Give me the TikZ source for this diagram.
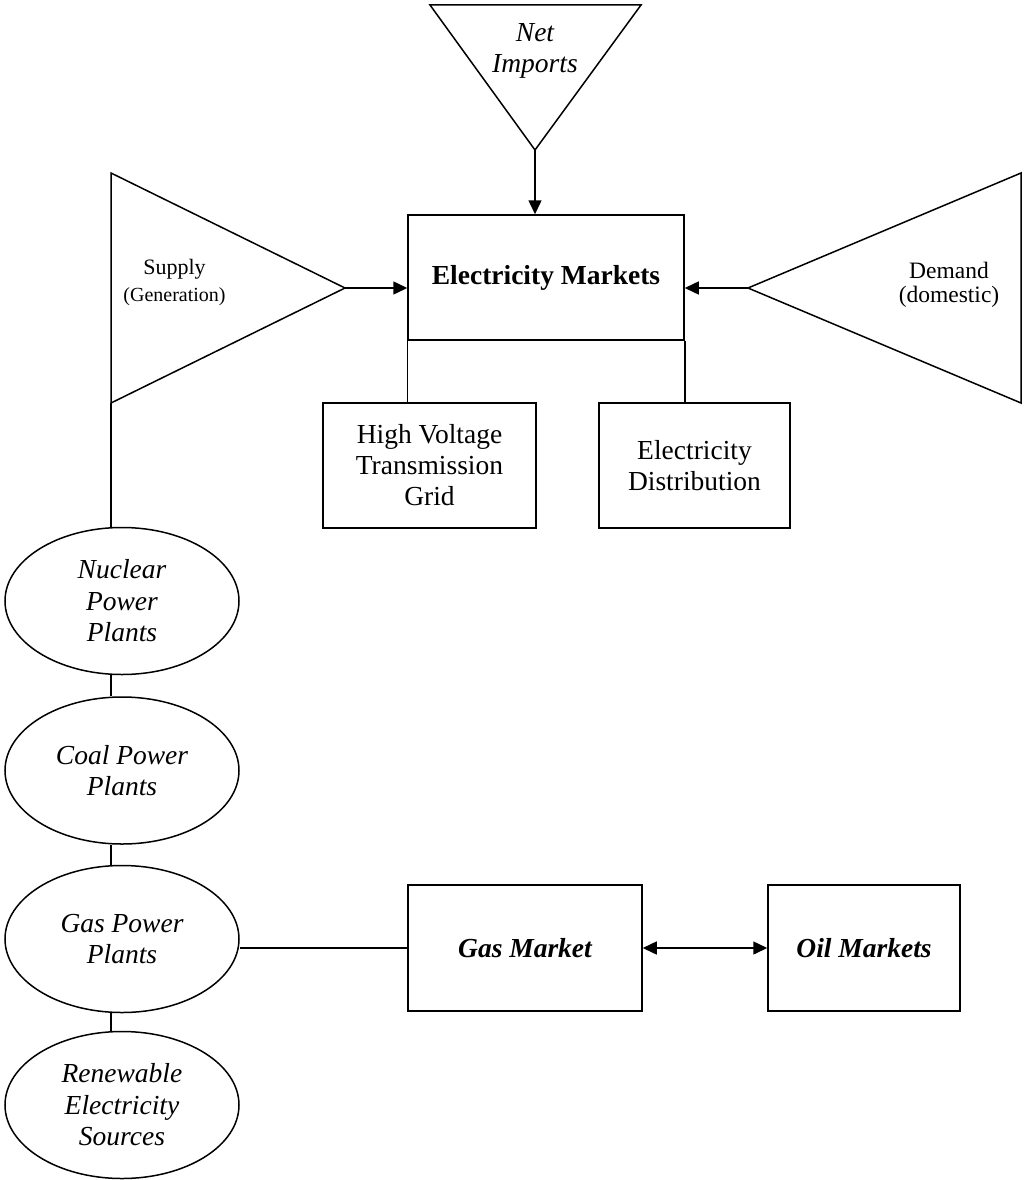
\documentclass[tikz,border=0pt]{standalone}
\usepackage{fontspec}
\setmainfont{Liberation Serif}
\usetikzlibrary{arrows.meta,shapes.geometric}
\begin{document}
\begin{tikzpicture}[x=1pt,y=-1pt,line width=1.5pt,
  arr/.style={-{Triangle[length=14pt,width=13pt]}},
  darr/.style={{Triangle[length=14pt,width=13pt]}-{Triangle[length=14pt,width=13pt]}},
  mainfont/.style={font=\fontsize{27.5}{31}\selectfont},
  box/.style={draw,rectangle,inner sep=0pt,align=center,mainfont},
  plant/.style={draw,ellipse,inner sep=0pt,minimum width=234pt,minimum height=147pt,align=center,font=\fontsize{27.5}{31.5}\selectfont\itshape},
  lbl/.style={inner sep=0pt,align=center}]
\useasboundingbox (0,0) rectangle (1023,1180);

% Net imports triangle
\draw (430,5) coordinate (niL) -- (641,5) coordinate (niR) -- (535,150) coordinate (niTip) -- cycle;
\node[lbl,font=\fontsize{27.5}{31.5}\selectfont\itshape] (nitext) at (535,51) {Net\\Imports};

% Supply triangle
\draw (111,173) coordinate (supTL) -- (111,403) coordinate (supBL) -- (345,288) coordinate (supTip) -- cycle;
\node[lbl,font=\fontsize{22}{26}\selectfont] (suptext) at (174.5,269) {Supply};
\node[lbl,font=\fontsize{20}{24}\selectfont] (gentext) at (174.5,297) {(Generation)};

% Demand triangle
\draw (748,288) coordinate (demTip) -- (1021,173) coordinate (demTR) -- (1021,403) coordinate (demBR) -- cycle;
\node[lbl,font=\fontsize{23.5}{28}\selectfont] (demtext) at (949,270) {Demand};
\node[lbl,font=\fontsize{23.5}{28}\selectfont] (domtext) at (949,297) {(domestic)};

% Boxes
\node[box,minimum width=276pt,minimum height=125pt] (em) at (546,277.5) {\bfseries Electricity Markets};
\node[box,minimum width=213pt,minimum height=125pt] (hv) at (429.5,465.5) {High Voltage\\Transmission\\Grid};
\node[box,minimum width=191pt,minimum height=125pt] (dist) at (694.5,465.5) {Electricity\\Distribution};
\node[box,minimum width=234pt,minimum height=126pt] (gasmkt) at (525,948) {\bfseries\itshape Gas Market};
\node[box,minimum width=192pt,minimum height=126pt] (oil) at (864,948) {\bfseries\itshape Oil Markets};

% Plants
\node[plant] (nuc) at (122,601) {Nuclear\\Power\\Plants};
\node[plant] (coal) at (122,770.5) {Coal Power\\Plants};
\node[plant] (gas) at (122,939) {Gas Power\\Plants};
\node[plant] (ren) at (122,1105) {Renewable\\Electricity\\Sources};

% Connectors
\draw[arr] (niTip) -- (niTip |- em.north);
\draw[arr] (supTip) -- (supTip -| em.west);
\draw[arr] (demTip) -- (demTip -| em.east);
\draw (em.south west) -- (em.south west |- hv.north);
\draw (em.south east) -- (em.south east |- dist.north);
\draw (supBL) -- (supBL |- nuc.north);
\draw (nuc.south -| supBL) -- (coal.north -| supBL);
\draw (coal.south -| supBL) -- (gas.north -| supBL);
\draw (gas.south -| supBL) -- (ren.north -| supBL);
\draw (gas.east |- gasmkt.west) -- (gasmkt.west);
\draw[darr] (gasmkt.east) -- (oil.west);
\end{tikzpicture}
\end{document}
